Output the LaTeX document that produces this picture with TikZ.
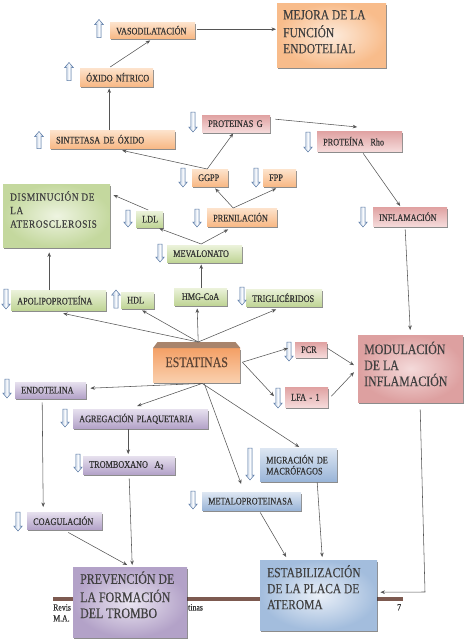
\documentclass[tikz,border=0pt]{standalone}
\usepackage{fontspec}
\setmainfont{Liberation Serif}
\newfontfamily\boxf{Liberation Serif}[FakeStretch=0.82,FakeBold=0.4]
\newfontfamily\bigfont{Liberation Serif}[FakeStretch=0.82,FakeBold=0.3]
\newfontfamily\spcf{Liberation Serif}[FakeStretch=0.85,LetterSpace=5,FakeBold=0.3]
\usetikzlibrary{shadows,arrows.meta}
\definecolor{txt}{HTML}{333333}
\definecolor{bigtxt}{HTML}{404040}
\definecolor{lnc}{HTML}{555555}
\definecolor{orT}{HTML}{FDE3CC}
\definecolor{orB}{HTML}{F8B986}
\definecolor{rdT}{HTML}{E0A2A2}
\definecolor{rdB}{HTML}{F5DADA}
\definecolor{grT}{HTML}{EBF2DA}
\definecolor{grB}{HTML}{C0D596}
\definecolor{puT}{HTML}{E6E0EE}
\definecolor{puB}{HTML}{B4A3C9}
\definecolor{blT}{HTML}{DDE6F2}
\definecolor{blB}{HTML}{9AB5D8}
\definecolor{mjI}{HTML}{FDEBDC}
\definecolor{mjO}{HTML}{F8BC8B}
\definecolor{dsI}{HTML}{EEF4E1}
\definecolor{dsO}{HTML}{C4D89E}
\definecolor{moI}{HTML}{F4DADA}
\definecolor{moO}{HTML}{DDA0A0}
\definecolor{pvI}{HTML}{EAE5F1}
\definecolor{pvO}{HTML}{B3A2C8}
\definecolor{ebI}{HTML}{EAF0F8}
\definecolor{ebO}{HTML}{A3BDDD}
\definecolor{esT}{HTML}{F4A066}
\definecolor{esB}{HTML}{FAD0AE}
\definecolor{esTx}{HTML}{5B4334}
\definecolor{bevelc}{HTML}{A8846C}
\definecolor{footc}{HTML}{7D5A50}
\definecolor{icD}{HTML}{5B7AA5}
\definecolor{icL}{HTML}{B7C9E2}
\definecolor{icR}{HTML}{8FA9CF}
\tikzset{
  shd/.style={drop shadow={shadow xshift=1.2pt,shadow yshift=-1.5pt,fill=black,opacity=0.45}},
  sb/.style={anchor=north west, inner xsep=6pt, inner ysep=0pt, align=left,
    font=\boxf\fontsize{10}{11}\selectfont, text=txt, shd},
  orb/.style={top color=orT, bottom color=orB},
  rdb/.style={top color=rdT, bottom color=rdB},
  grb/.style={top color=grT, bottom color=grB},
  pub/.style={top color=puT, bottom color=puB},
  blb/.style={top color=blT, bottom color=blB},
  bigb/.style={anchor=north west, text=bigtxt, shd},
  arr/.style={draw=lnc, line width=0.55pt, -{Stealth[length=4.5pt,width=3.6pt]}},
  icon/.style={draw=icD, line width=0.5pt, left color=icL, right color=icR, middle color=white!92!icL},
  pics/dnarr/.style={code={\path[icon] (-2.2,-#1) -- (2.2,-#1) -- (2.2,#1-5) -- (4.3,#1-5) -- (0,#1) -- (-4.3,#1-5) -- (-2.2,#1-5) -- cycle;}},
  pics/dnarr/.default=9,
  pics/uparr/.style={code={\path[icon] (-2.2,#1) -- (2.2,#1) -- (2.2,-#1+5) -- (4.3,-#1+5) -- (0,-#1) -- (-4.3,-#1+5) -- (-2.2,-#1+5) -- cycle;}},
  pics/uparr/.default=9,
  foot/.style={inner sep=0pt, anchor=north west, text=txt, font=\boxf\fontsize{9.5}{11}\selectfont}
}
\begin{document}
\begin{tikzpicture}[x=1pt,y=-1pt]
\useasboundingbox (0,0) rectangle (466,641);
% footer rule and texts
\draw[footc, line width=4pt] (53,599) -- (403,599);
\node[foot] (ft1) at (53,604) {Revis};
\node[foot] (ft2) at (53,615) {M.A.};
\node[foot] (ft3) at (188,604) {tinas};
\node[foot] (ft4) at (397,604) {7};

% orange boxes
\node[sb, orb, text width=73pt, minimum height=16pt] (vaso) at (110,22) {\mbox{VASODILATACIÓN}};
\node[sb, orb, text width=61pt, minimum height=18pt] (oxido) at (80,68) {\mbox{ÓXIDO NÍTRICO}};
\node[sb, orb, text width=113pt, minimum height=18pt] (sint) at (50,130) {\mbox{SINTETASA DE ÓXIDO}};
\node[sb, orb, text width=24pt, minimum height=17pt] (ggpp) at (192,169) {\mbox{GGPP}};
\node[sb, orb, text width=21pt, minimum height=17pt] (fpp) at (263,169) {\mbox{FPP}};
\node[sb, orb, text width=58pt, minimum height=18pt] (prenil) at (207,208) {\mbox{PRENILACIÓN}};
% red boxes
\node[sb, rdb, text width=56pt, minimum height=17pt] (protG) at (202,115) {\mbox{PROTEINAS\ G}};
\node[sb, rdb, text width=73pt, minimum height=20pt] (rho) at (317,131) {\mbox{PROTEÍNA\ \ Rho}};
\node[sb, rdb, text width=62pt, minimum height=19pt] (infl) at (373,207) {\mbox{INFLAMACIÓN}};
\node[sb, rdb, text width=20pt, minimum height=15pt] (pcr) at (295,342) {\mbox{PCR}};
\node[sb, rdb, text width=31pt, minimum height=20pt] (lfa) at (285,387) {\mbox{LFA - 1}};
% green boxes
\node[sb, grb, text width=15pt, minimum height=16pt] (ldl) at (136,211) {\mbox{LDL}};
\node[sb, grb, text width=63pt, minimum height=17pt] (meval) at (167,245) {\mbox{MEVALONATO}};
\node[sb, grb, text width=41pt, minimum height=17pt] (hmg) at (174,288) {\mbox{\,HMG-CoA}};
\node[sb, grb, text width=64pt, minimum height=17pt] (trig) at (246,289) {\mbox{TRIGLICÉRIDOS}};
\node[sb, grb, text width=83pt, minimum height=20pt] (apo) at (11,290) {\mbox{APOLIPOPROTEÍNA}};
\node[sb, grb, text width=21pt, minimum height=16pt] (hdl) at (121,292) {\mbox{HDL}};
% purple boxes
\node[sb, pub, text width=59pt, minimum height=16pt] (endot) at (15,382) {\mbox{ENDOTELINA}};
\node[sb, pub, text width=123pt, minimum height=19pt] (agreg) at (73,409) {\mbox{AGREGACIÓN PLAQUETARIA}};
\node[sb, pub, text width=80pt, minimum height=18pt] (tromb) at (83,456) {\mbox{TROMBOXANO\ \ A\textsubscript{2}}};
\node[sb, pub, text width=63pt, minimum height=17pt] (coag) at (27,512) {\mbox{COAGULACIÓN}};
% blue boxes
\node[sb, blb, text width=65pt, minimum height=33pt] (migr) at (260,448) {MIGRACIÓN DE\\MACRÓFAGOS};
\node[sb, blb, text width=87pt, minimum height=18pt] (metal) at (202,492) {\mbox{METALOPROTEINASA}};

% big boxes
\node[bigb, inner xsep=6pt, inner ysep=5pt, inner color=mjI, outer color=mjO] (mejora) at (277,3)
  {\parbox[c][54pt][t]{97pt}{\raggedright\bigfont\fontsize{14}{16}\selectfont\strut MEJORA DE LA\\FUNCIÓN\\ENDOTELIAL}};
\node[bigb, inner xsep=7pt, inner ysep=7pt, inner color=dsI, outer color=dsO] (dism) at (3,184)
  {\parbox[c][49pt][t]{93pt}{\raggedright\spcf\fontsize{11}{13.5}\selectfont\strut DISMINUCIÓN DE\\LA\\ATEROSCLEROSIS}};
\node[bigb, inner xsep=6pt, inner ysep=6.4pt, inner color=moI, outer color=moO] (modul) at (358,335)
  {\parbox[c][54.2pt][t]{93pt}{\raggedright\bigfont\fontsize{14.5}{16}\selectfont\strut MODULACIÓN\\DE LA\\INFLAMACIÓN}};
\node[bigb, inner xsep=7pt, inner ysep=4.1pt, inner color=pvI, outer color=pvO] (prev) at (73,567)
  {\parbox[c][61.8pt][t]{100pt}{\raggedright\bigfont\fontsize{14.5}{16}\selectfont\strut PREVENCIÓN DE\\LA FORMACIÓN\\DEL TROMBO}};
\node[bigb, inner xsep=7pt, inner ysep=5pt, inner color=ebI, outer color=ebO] (estab) at (260,560)
  {\parbox[c][60pt][t]{103pt}{\raggedright\bigfont\fontsize{14}{16}\selectfont\strut ESTABILIZACIÓN\\DE LA PLACA DE\\ATEROMA}};

% estatinas
\node[anchor=north west, minimum width=87pt, minimum height=34pt, inner sep=0pt, text depth=6pt,
  top color=esT, bottom color=esB, text=esTx, font=\bigfont\fontsize{14.5}{16}\selectfont, shd] (est) at (153,348) {ESTATINAS};
\fill[bevelc] (est.north west) -- ([xshift=4.5pt,yshift=6pt]est.north west) -- ([xshift=-5pt,yshift=6pt]est.north east) -- (est.north east) -- cycle;

% icons
\pic at (99,28.5) {uparr=9};
\pic at (69,71.5) {uparr=9};
\pic at (39,140) {uparr=8.5};
\pic at (116,299) {uparr=9};
\pic at (193,122) {dnarr=10};
\pic at (308,142) {dnarr=10};
\pic at (183,177.5) {dnarr=9.5};
\pic at (256,177.5) {dnarr=9.5};
\pic at (197,218) {dnarr=9};
\pic at (128,218.5) {dnarr=8.5};
\pic at (160,253) {dnarr=9};
\pic at (242,296) {dnarr=9};
\pic at (6,299) {dnarr=10};
\pic at (363,217) {dnarr=10};
\pic at (289,351.5) {dnarr=9.5};
\pic at (278,398) {dnarr=10};
\pic at (7,388.5) {dnarr=9.5};
\pic at (65,418) {dnarr=9};
\pic at (78,463) {dnarr=9};
\pic at (18,521.5) {dnarr=9.5};
\pic at (250,464) {dnarr=16};
\pic at (193,500) {dnarr=9};

% connectors
\draw[arr] ([xshift=2pt,yshift=1pt]vaso.east) -- ([xshift=-1pt,yshift=6pt]mejora.west);
\draw[arr] ([xshift=-6.5pt,yshift=1pt]oxido.north) -- ([xshift=-2.5pt,yshift=-2pt]vaso.south);
\draw[arr] ([xshift=-3.5pt]sint.north) -- ([xshift=-7.5pt,yshift=-2pt]oxido.south);
\draw[arr] ([xshift=-3pt]ggpp.north) -- ([xshift=9.5pt,yshift=-2pt]sint.south);
\draw[arr] ([xshift=-3pt]ggpp.north) -- ([xshift=-3pt,yshift=-1pt]protG.south);
\draw[arr] ([xshift=5pt,yshift=4.5pt]protG.east) -- ([xshift=-2.5pt,yshift=4pt]rho.north);
\draw[arr] ([xshift=3.5pt,yshift=-2pt]rho.south) -- ([xshift=-10pt,yshift=1pt]infl.north);
\draw[arr] ([xshift=-9pt]prenil.north) -- ([xshift=5pt,yshift=-2pt]ggpp.south);
\draw[arr] ([xshift=-9pt]prenil.north) -- ([xshift=-3.5pt,yshift=-2pt]fpp.south);
\draw[arr] ([xshift=-5pt,yshift=-3pt]infl.south) -- ([xshift=-0.5pt,yshift=5pt]modul.north);
\draw[arr] ([xshift=-3.5pt,yshift=1pt]meval.north) -- ([xshift=9.5pt,yshift=-1pt]ldl.south);
\draw[arr] ([xshift=-3.5pt,yshift=1pt]meval.north) -- ([xshift=-14pt,yshift=-3pt]prenil.south);
\draw[arr] ([xshift=-1.5pt,yshift=1pt]ldl.north) -- ([xshift=3pt,yshift=-11pt]dism.north east);
\draw[arr] ([xshift=0.5pt]hmg.north) -- ([xshift=-3.5pt,yshift=-2pt]meval.south);
\draw[arr] ([xshift=-9.5pt]apo.north) -- ([xshift=-7.5pt,yshift=-5pt]dism.south);
\draw[arr] ([xshift=1.5pt,yshift=6pt]est.north) -- ([xshift=4.5pt,yshift=-3pt]apo.south);
\draw[arr] ([xshift=1.5pt,yshift=6pt]est.north) -- ([xshift=4.5pt,yshift=-2pt]hdl.south);
\draw[arr] ([xshift=1.5pt,yshift=6pt]est.north) -- ([xshift=-3.5pt,yshift=-3pt]hmg.south);
\draw[arr] ([xshift=1.5pt,yshift=6pt]est.north) -- ([xshift=-8pt,yshift=-3pt]trig.south);
\draw[arr] ([xshift=2pt,yshift=3pt]est.east) -- ([xshift=-7pt,yshift=1.5pt]pcr.west);
\draw[arr] ([xshift=2pt,yshift=3pt]est.east) -- ([xshift=-11pt,yshift=1pt]lfa.west);
\draw[arr] ([yshift=1.5pt]pcr.east) -- ([xshift=-4pt,yshift=3.5pt]modul.west);
\draw[arr] ([xshift=3pt,yshift=1pt]lfa.east) -- ([xshift=-4pt,yshift=-3.5pt]modul.west);
\coordinate (bend) at (425,592);
\draw[arr] ([xshift=9.5pt,yshift=-7pt]modul.south) -- (bend) -- ([xshift=3pt,yshift=3pt]estab.east);
\draw[arr] ([xshift=5.5pt,yshift=-1pt]est.south) -- ([xshift=4pt,yshift=2pt]endot.east);
\draw[arr] ([xshift=5.5pt,yshift=-1pt]est.south) -- ([xshift=-3.5pt,yshift=3pt]agreg.north);
\draw[arr] ([xshift=5.5pt,yshift=-1pt]est.south) -- ([xshift=0.5pt,yshift=1pt]migr.north);
\draw[arr] ([xshift=7.5pt,yshift=-1pt]est.south) -- ([xshift=-10.5pt,yshift=8pt]metal.north);
\draw[arr] ([xshift=-12.5pt,yshift=-1pt]agreg.south) -- ([xshift=-1pt,yshift=2pt]tromb.north);
\draw[arr] ([yshift=-4pt]tromb.south) -- ([xshift=2pt,yshift=2pt]prev.north);
\draw[arr] ([xshift=-8.5pt,yshift=-4pt]endot.south) -- ([xshift=-21.5pt,yshift=5pt]coag.north);
\draw[arr] ([xshift=3.5pt,yshift=-3pt]coag.south) -- ([xshift=-3pt,yshift=2pt]prev.north);
\draw[arr] ([xshift=8.5pt,yshift=-2pt]metal.south) -- ([xshift=-32.5pt,yshift=3pt]estab.north);
\draw[arr] ([xshift=18.5pt,yshift=-1pt]migr.south) -- ([xshift=3.5pt,yshift=3pt]estab.north);
\end{tikzpicture}
\end{document}
